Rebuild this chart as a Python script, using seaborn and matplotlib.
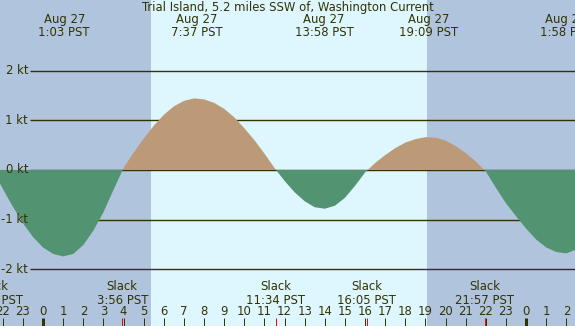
"""Tidal current prediction chart, Trial Island (Washington)."""
import matplotlib
matplotlib.use('Agg')
import matplotlib.pyplot as plt
import numpy as np
import seaborn as sns

# current speed (kt) every half hour, hours from midnight Aug 27 (PST)
hours = np.arange(-2.5, 27.0, 0.5)
speed = [0.00, -0.38, -0.74, -1.07, -1.35, -1.56, -1.69, -1.74,
         -1.69, -1.51, -1.22, -0.85, -0.40,
         0.04, 0.35, 0.63, 0.89, 1.11, 1.28, 1.39, 1.44,
         1.42, 1.35, 1.23, 1.06, 0.84, 0.60, 0.33, 0.04,
         -0.22, -0.45, -0.63, -0.75,
         -0.78, -0.72, -0.56, -0.32, -0.05,
         0.14, 0.30, 0.44, 0.55, 0.62, 0.66,
         0.65, 0.59, 0.48, 0.34, 0.17,
         -0.03, -0.36, -0.67, -0.93, -1.18, -1.40, -1.56, -1.65, -1.68, -1.60]
speed = np.array(speed)

# max current events (top labels)
max_times = [1.05, 7.617, 13.967, 19.15, 25.967]
max_labels = ['Aug 27\n1:03 PST', 'Aug 27\n7:37 PST', 'Aug 27\n13:58 PST',
              'Aug 27\n19:09 PST', 'Aug 28\n1:58 PST']

# slack water events (bottom labels)
slack_times = [-2.48, 3.933, 11.567, 16.083, 21.95]
slack_labels = ['Slack\n21:31 PST', 'Slack\n3:56 PST', 'Slack\n11:34 PST',
                'Slack\n16:05 PST', 'Slack\n21:57 PST']

kt_levels = [2, 1, 0, -1, -2]
sunrise, sunset = 5.37, 19.08
tick_hours = np.arange(-2, 27)

title = 'Trial Island, 5.2 miles SSW of, Washington Current'

night = '#b0c4de'
day = '#def7fe'
flood = '#bc9a78'
ebb = '#529472'
ink = '#333300'

sns.set_style('white')
plt.rcParams['font.family'] = ['DejaVu Sans']
fs = 8.4

fig = plt.figure(figsize=(5.75, 3.26), dpi=100)
ax = fig.add_axes([0, 0, 1, 1])
ax.set_facecolor(night)
ax.set_xlim(-2.14, 26.43)
ax.set_ylim(-3.14, 3.42)
ax.set_xticks([])
ax.set_yticks([])
sns.despine(ax=ax, left=True, bottom=True)

# daylight band
ax.axvspan(sunrise, sunset, color=day, lw=0, zorder=1)

# speed grid lines with labels
x_line = -0.646
ax.hlines(kt_levels, x_line, 26.43, color=ink, lw=1, zorder=2)
for lv in kt_levels:
    ax.text(x_line - 0.1, lv, f'{lv} kt', ha='right', va='center',
            fontsize=fs, color=ink, zorder=5)

# flood / ebb fill
ax.fill_between(hours, speed, 0, where=speed >= 0, interpolate=True,
                color=flood, lw=0, zorder=3)
ax.fill_between(hours, speed, 0, where=speed <= 0, interpolate=True,
                color=ebb, lw=0, zorder=3)

trans = ax.get_xaxis_transform()

def fy(px):
    """pixel row -> axes fraction"""
    return 1 - px / 326

ax.text(12.15, fy(7.5), title, ha='center', va='center', fontsize=fs, color=ink, transform=trans)
for t, lab in zip(max_times, max_labels):
    ax.text(t, fy(25.5), lab, ha='center', va='center', fontsize=fs, color=ink,
            linespacing=1.0, transform=trans)
for t, lab in zip(slack_times, slack_labels):
    ax.text(t, fy(293.5), lab, ha='center', va='center', fontsize=fs, color=ink,
            linespacing=1.0, transform=trans)

# hour ticks along the bottom
for h in tick_hours:
    ax.text(h, fy(311.5), str(h % 24), ha='center', va='center', fontsize=fs,
            color=ink, transform=trans)
    width = 3 if h % 24 == 0 else 1
    ax.vlines(h, 0, fy(318), color=ink, lw=width * 0.72, transform=trans, zorder=4)
ax.vlines(slack_times, 0, fy(318), color='red', lw=0.72, transform=trans, zorder=4)

fig.savefig('out.png', dpi=100)
